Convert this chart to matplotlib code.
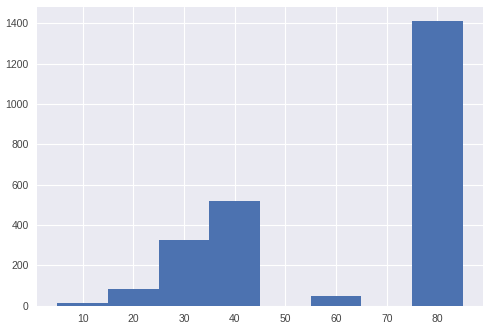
import numpy as np
import matplotlib
matplotlib.use('Agg')
import matplotlib.pyplot as plt

plt.style.use('seaborn-v0_8-darkgrid')
plt.rcParams['font.family'] = ['Liberation Sans', 'DejaVu Sans']

# histogram bins and counts
bin_edges = [5, 15, 25, 35, 45, 55, 65, 75, 85]
counts = [12, 82, 325, 518, 0, 47, 0, 1411]

centers = [(a + b) / 2 for a, b in zip(bin_edges[:-1], bin_edges[1:])]

fig = plt.figure(figsize=(4.9, 3.3), dpi=100)
ax = fig.add_axes([37 / 490, (330 - 305.5) / 330, (483 - 37) / 490, (305.5 - 7) / 330])

ax.hist(centers, bins=bin_edges, weights=counts, color='#4C72B0')
ax.set_xlim(1, 89)
ax.set_ylim(0, 1481)
ax.set_xticks([10, 20, 30, 40, 50, 60, 70, 80])
ax.set_yticks([0, 200, 400, 600, 800, 1000, 1200, 1400])
ax.tick_params(labelsize=7.5, colors='#444444', length=0, pad=6)

fig.savefig('out.png', dpi=100)
